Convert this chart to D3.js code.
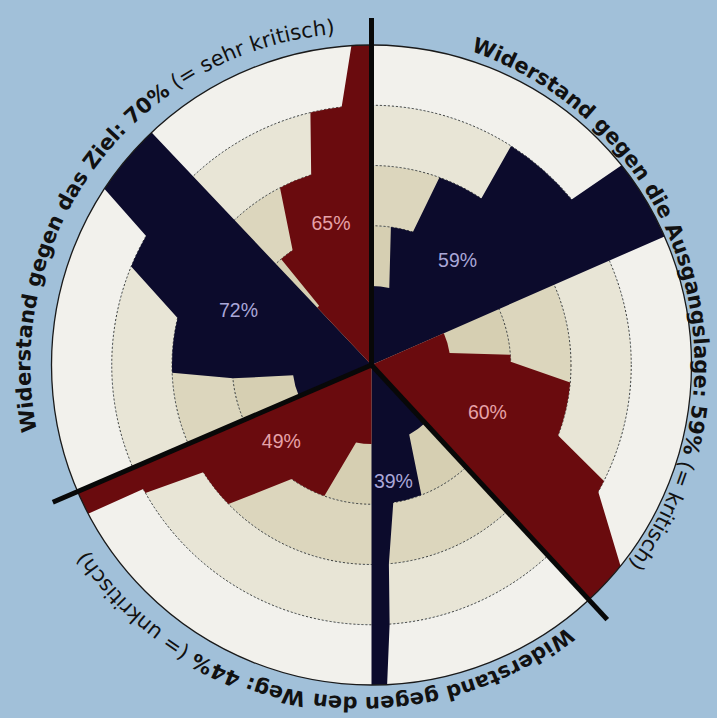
<!DOCTYPE html>
<html><head><meta charset="utf-8">
<script src="https://cdn.jsdelivr.net/npm/d3@7"></script>
<style>html,body{margin:0;padding:0;background:#a1c0d9;} svg{display:block}</style>
</head><body>
<svg id="chart" width="717" height="718"></svg>
<script>
// ---------------- data ----------------
const groupTitles = ["Widerstand gegen die Ausgangslage", "Widerstand gegen den Weg", "Widerstand gegen das Ziel"];
const groupValues = [59, 44, 70];
const groupNotes  = ["kritisch", "unkritisch", "sehr kritisch"];
const groupStartAngle = [0, 137.2, 246.7];           // degrees, clockwise from top

const sectorValues = [59, 60, 39, 49, 72, 65];       // % labels
const sectorSeries = [0, 1, 0, 1, 0, 1];             // 0 = navy, 1 = red
const sectorStart  = [0, 66.3, 137.2, 180, 246.7, 316.6];
const sectorEnd    = [66.3, 137.2, 180, 246.7, 316.6, 360];
const levels = [1, 2, 3, 4, 5];
// angle where each level 2..5 begins: at the inner ring and at the outer ring of that step
const stepInner = [
  [13.0, 17.3, 33.4, 50.4],
  [81.3, 88.7, 110.7, 119.2],
  [151.5, 171.0, 175.0, 176.0],
  [191.3, 215.0, 237.5, 241.5],
  [262.6, 264.5, 283.6, 299.8],
  [318.5, 325.5, 342.4, 353.4]
];
const stepOuter = [
  [8.0, 19.9, 32.5, 51.4],
  [85.8, 95.0, 116.5, 128.9],
  [159.0, 175.0, 176.0, 177.2],
  [199.8, 225.8, 240.5, 242.3],
  [264.5, 267.8, 292.3, 303.4],
  [319.5, 332.7, 346.4, 356.4]
];
const ringLevels = [2, 3, 4];
const bandLevels = [[0, 2], [2, 3], [3, 4], [4, 5]];

// ---------------- layout / style ----------------
const W = 717, H = 718, cx = 371.5, cy = 365;
const seriesColor = ["#0c0b2c", "#6a0b0e"];
const labelColor  = ["#aaa7d8", "#e6a2a8"];
const bandColor   = ["#d6cfb2", "#dcd6bd", "#e8e5d6", "#f2f1ec"];
const labelAngle  = [39.3, 112, 169.3, 229.8, 292.5, 344.1];
const labelRadius = [136, 125, 118, 118, 144, 148];
const titleStart  = [19, 142, 258.5];
const textCx = cx - 9, textCy = cy, textR = 332;

const angle = d3.scaleLinear().domain([0, 360]).range([0, 2 * Math.PI]);
const radius = d3.scaleLinear().domain([1, 5]).range([79, 320]);
const rad = v => v <= 0 ? 0 : radius(v);
const pt = (deg, r) => [r * Math.sin(angle(deg)), -r * Math.cos(angle(deg))];
const ca = deg => angle(deg) - Math.PI / 2;

const svg = d3.select("#chart");
svg.append("rect").attr("width", W).attr("height", H).attr("fill", "#a1c0d9");
const g = svg.append("g").attr("transform", `translate(${cx},${cy})`);

// background bands
const bandArc = d3.arc();
g.selectAll("path.band").data(bandLevels).join("path")
  .attr("class", "band")
  .attr("d", (d) => bandArc({innerRadius: rad(d[0]), outerRadius: rad(d[1]), startAngle: 0, endAngle: 2 * Math.PI}))
  .attr("fill", (d, i) => bandColor[i]);

// dotted rings
g.selectAll("circle.ring").data(ringLevels).join("circle")
  .attr("class", "ring").attr("r", d => radius(d))
  .attr("fill", "none").attr("stroke", "#3a3a36").attr("stroke-width", 1)
  .attr("stroke-dasharray", "2,2");

// sectors
function sectorPath(i) {
  const p = d3.path();
  p.moveTo(0, 0);
  let cur = sectorStart[i];
  let r = radius(levels[0]);
  p.lineTo(...pt(cur, r));
  for (let k = 0; k < 4; k++) {
    const a1 = stepInner[i][k];
    if (a1 > cur) p.arc(0, 0, r, ca(cur), ca(a1));
    r = radius(levels[k + 1]);
    cur = stepOuter[i][k];
    p.lineTo(...pt(cur, r));
  }
  if (sectorEnd[i] > cur) p.arc(0, 0, r, ca(cur), ca(sectorEnd[i]));
  p.closePath();
  return p.toString();
}
g.selectAll("path.sector").data(sectorValues).join("path")
  .attr("class", "sector")
  .attr("d", (d, i) => sectorPath(i))
  .attr("fill", (d, i) => seriesColor[sectorSeries[i]]);

// outer circle
g.append("circle").attr("r", radius(5)).attr("fill", "none")
  .attr("stroke", "#1a1a1a").attr("stroke-width", 1.3);

// dividers
g.selectAll("line.div").data(groupStartAngle).join("line")
  .attr("class", "div")
  .attr("x1", 0).attr("y1", 0)
  .attr("x2", d => pt(d, 347)[0]).attr("y2", d => pt(d, 347)[1])
  .attr("stroke", "#080808").attr("stroke-width", 5);

// percent labels
g.selectAll("text.pct").data(sectorValues).join("text")
  .attr("class", "pct")
  .attr("x", (d, i) => pt(labelAngle[i], labelRadius[i])[0])
  .attr("y", (d, i) => pt(labelAngle[i], labelRadius[i])[1])
  .attr("dy", "0.36em")
  .attr("text-anchor", "middle")
  .attr("font-family", "Liberation Sans, Arial, sans-serif")
  .attr("font-size", 19.5)
  .attr("fill", (d, i) => labelColor[sectorSeries[i]])
  .text(d => d + "%");

// titles on a circle
const defs = svg.append("defs");
defs.append("path").attr("id", "tpath")
  .attr("d", `M${textCx},${textCy - textR} A${textR},${textR} 0 1 1 ${textCx},${textCy + textR} A${textR},${textR} 0 1 1 ${textCx},${textCy - textR}`);
const titles = svg.selectAll("text.title").data(groupTitles).join("text")
  .attr("class", "title")
  .attr("font-family", "DejaVu Sans, sans-serif")
  .attr("font-size", 21)
  .attr("fill", "#111");
titles.each(function(d, i) {
  const tp = d3.select(this).append("textPath")
    .attr("href", "#tpath")
    .attr("startOffset", angle(titleStart[i]) * textR);
  tp.append("tspan").attr("font-weight", "bold").text(`${d}: ${groupValues[i]}%`);
  tp.append("tspan").attr("font-weight", "normal").text(` (= ${groupNotes[i]})`);
});
</script>
</body></html>
